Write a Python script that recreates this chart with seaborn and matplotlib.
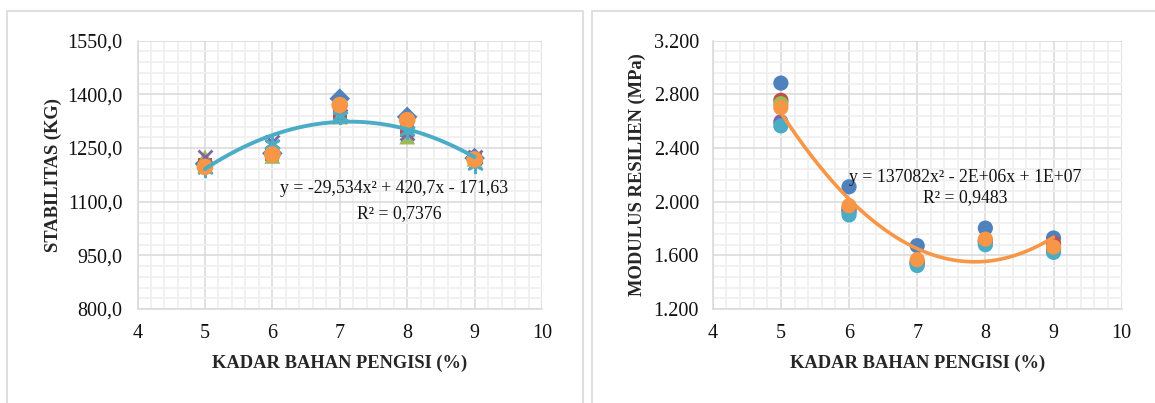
import numpy as np
import pandas as pd
import matplotlib
matplotlib.use("Agg")
import matplotlib.pyplot as plt
from matplotlib.patches import Rectangle
from matplotlib.ticker import FixedLocator, FuncFormatter
import seaborn as sns

# ---------------- data ----------------
kadar = [5, 6, 7, 8, 9]

# Stabilitas (kg), six specimens
stab_1 = [1206, 1235, 1388, 1337, 1222]
stab_2 = [1202, 1232, 1340, 1300, 1218]
stab_3 = [1224, 1228, 1338, 1282, 1220]
stab_4 = [1226, 1268, 1340, 1292, 1225]
stab_5 = [1192, 1262, 1340, 1298, 1203]
stab_6 = [1197, 1232, 1370, 1328, 1218]

# Modulus resilien (MPa), six specimens
mr_1 = [2884, 2111, 1672, 1803, 1729]
mr_2 = [2756, 1950, 1550, 1710, 1690]
mr_3 = [2730, 1940, 1545, 1705, 1655]
mr_4 = [2595, 1925, 1540, 1700, 1645]
mr_5 = [2565, 1901, 1524, 1679, 1622]
mr_6 = [2701, 1970, 1568, 1721, 1662]

stab_eq = "y = -29,534x² + 420,7x - 171,63"
stab_r2 = "R² = 0,7376"
mr_eq = "y = 137082x² - 2E+06x + 1E+07"
mr_r2 = "R² = 0,9483"

x_label = "KADAR BAHAN PENGISI (%)"
y_label_left = "STABILITAS (KG)"
y_label_right = "MODULUS RESILIEN (MPa)"

# ---------------- style ----------------
sns.set_theme(style="white")
plt.rcParams["font.family"] = ["Liberation Serif", "DejaVu Serif"]
plt.rcParams["text.color"] = "#111111"

colors = ["#4F81BD", "#C0504D", "#9BBB59", "#8064A2", "#4BACC6", "#F79646"]
markers_left = ["D", "s", "^", "x", (6, 2, 0), "o"]
sizes_left = [110, 100, 130, 100, 110, 145]

FS_TICK = 14.5
FS_TXT = 12.8
FS_LAB = 13.3
GRID_MAJ = "#D9D9D9"
GRID_MIN = "#F0F0F0"

fig = plt.figure(figsize=(11.55, 4.03), dpi=100)
W, H = 1155, 403

# panel borders
for (x0, x1) in [(7, 583), (592, 1175)]:
    fig.patches.append(Rectangle((x0 / W, -0.1), (x1 - x0) / W, (H - 11) / H + 0.1,
                                 transform=fig.transFigure, fill=False,
                                 edgecolor="#D9D9D9", linewidth=1.2))

def make_axes(left_px, right_px):
    top_px, bot_px = 40.7, 309
    return fig.add_axes([left_px / W, (H - bot_px) / H,
                         (right_px - left_px) / W, (bot_px - top_px) / H])

def style_axes(ax, ylo, yhi, ymaj, ymin, ticks):
    ax.set_xlim(4, 10)
    ax.set_ylim(ylo, yhi)
    ax.xaxis.set_major_locator(FixedLocator(np.arange(4, 10.01, 1)))
    ax.xaxis.set_minor_locator(FixedLocator(np.arange(4, 10.01, 0.2)))
    ax.yaxis.set_major_locator(FixedLocator(np.arange(ylo, yhi + 0.01, ymaj)))
    ax.yaxis.set_minor_locator(FixedLocator(np.arange(ylo, yhi + 0.01, ymin)))
    ax.grid(which="minor", color=GRID_MIN, linewidth=1.3, zorder=0)
    ax.grid(which="major", color=GRID_MAJ, linewidth=1.1, zorder=0.5)
    ax.set_axisbelow(True)
    for s in ["top", "right"]:
        ax.spines[s].set_visible(False)
    for s in ["left", "bottom"]:
        ax.spines[s].set_color(GRID_MAJ)
        ax.spines[s].set_linewidth(1.1)
    if ticks:
        ax.tick_params(which="major", direction="out", length=3.8, width=1.0,
                       color=GRID_MAJ, labelsize=FS_TICK, labelcolor="#111111", pad=6)
        ax.tick_params(axis="x", which="major", pad=7)
    else:
        ax.tick_params(which="major", length=0, labelsize=FS_TICK, labelcolor="#111111", pad=11)
        ax.tick_params(axis="x", which="major", pad=11)
    ax.tick_params(which="minor", length=0)
    ax.set_facecolor("white")

# ---------------- left: Stabilitas ----------------
axL = make_axes(137.5, 542)
stab_series = [stab_1, stab_2, stab_3, stab_4, stab_5, stab_6]
for i, vals in enumerate(stab_series):
    df = pd.DataFrame({"x": kadar, "y": vals})
    mk = markers_left[i]
    filled = mk in ("D", "s", "^", "o")
    kw = dict(edgecolor="none") if filled else dict(linewidth=2.0)
    sns.scatterplot(data=df, x="x", y="y", ax=axL, marker=mk, s=sizes_left[i],
                    color=colors[i], zorder=3 + i, legend=False, **kw)

stab_long = pd.DataFrame({"x": np.tile(kadar, 6), "y": np.concatenate(stab_series)})
sns.regplot(data=stab_long, x="x", y="y", order=2, ci=None, scatter=False, ax=axL,
            line_kws=dict(color="#4BACC6", linewidth=2.8, zorder=10))

style_axes(axL, 800, 1550, 150, 30, ticks=False)
axL.yaxis.set_major_formatter(FuncFormatter(lambda v, p: f"{v:.1f}".replace(".", ",")))
axL.set_xlabel(x_label, fontsize=FS_LAB, fontweight="bold", va="center")
axL.xaxis.set_label_coords(0.5, -0.201)
axL.set_ylabel(y_label_left, fontsize=FS_LAB, fontweight="bold", va="center")
axL.yaxis.set_label_coords(-0.209, 0.5)
axL.text(7.80, 1138, stab_eq, fontsize=FS_TXT, ha="center", va="center", zorder=12)
axL.text(7.89, 1068, stab_r2, fontsize=FS_TXT, ha="center", va="center", zorder=12)

# ---------------- right: Modulus resilien ----------------
axR = make_axes(712.7, 1121.7)
mr_series = [mr_1, mr_2, mr_3, mr_4, mr_5, mr_6]
for i, vals in enumerate(mr_series):
    df = pd.DataFrame({"x": kadar, "y": vals})
    sns.scatterplot(data=df, x="x", y="y", ax=axR, marker="o", s=120,
                    color=colors[i], edgecolor="none", zorder=3 + i, legend=False)

mr_long = pd.DataFrame({"x": np.tile(kadar, 6), "y": np.concatenate(mr_series)})
sns.regplot(data=mr_long, x="x", y="y", order=2, ci=None, scatter=False, ax=axR,
            line_kws=dict(color="#F79646", linewidth=2.6, zorder=10))

style_axes(axR, 1200, 3200, 400, 80, ticks=True)
axR.yaxis.set_major_formatter(FuncFormatter(lambda v, p: f"{int(round(v)):,}".replace(",", ".")))
axR.set_xlabel(x_label, fontsize=FS_LAB, fontweight="bold", va="center")
axR.xaxis.set_label_coords(0.5, -0.201)
axR.set_ylabel(y_label_right, fontsize=FS_LAB, fontweight="bold", va="center")
axR.yaxis.set_label_coords(-0.185, 0.5)
axR.text(7.71, 2181, mr_eq, fontsize=FS_TXT, ha="center", va="center", zorder=12)
axR.text(7.71, 2033, mr_r2, fontsize=FS_TXT, ha="center", va="center", zorder=12)

fig.savefig("out.png", dpi=100, facecolor="white")
